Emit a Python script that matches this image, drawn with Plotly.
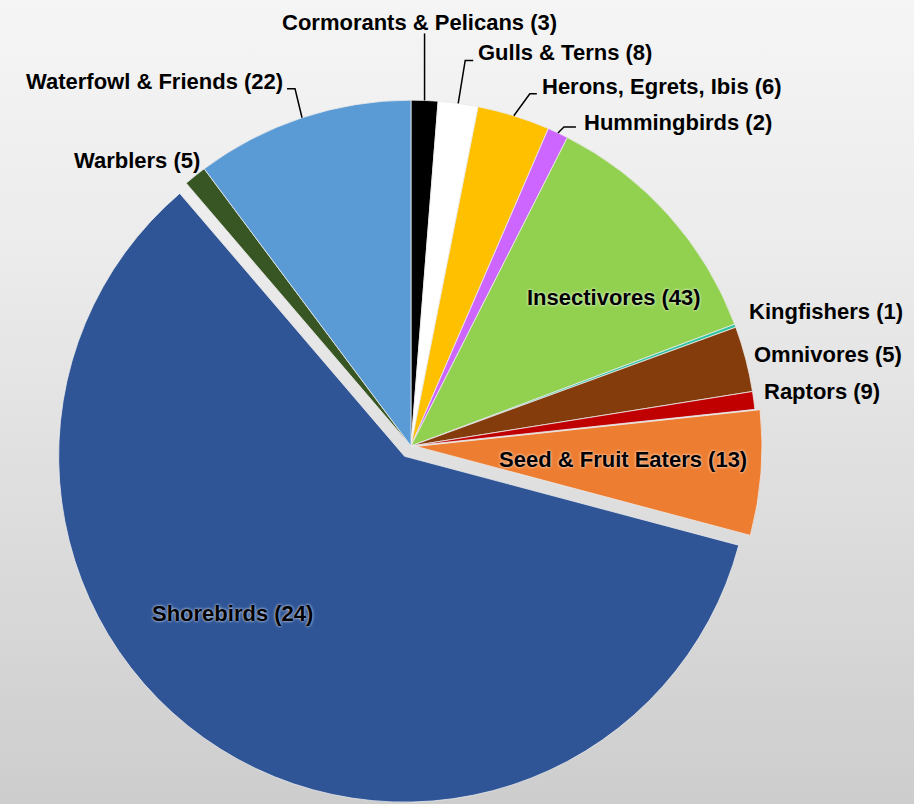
import base64
import math
import plotly.graph_objects as go

# ---------------- data ----------------
categories = ["Cormorants & Pelicans", "Gulls & Terns", "Herons, Egrets, Ibis",
              "Hummingbirds", "Insectivores", "Kingfishers", "Omnivores",
              "Raptors", "Seed & Fruit Eaters", "Shorebirds", "Warblers",
              "Waterfowl & Friends"]
species_counts = [3, 8, 6, 2, 43, 1, 5, 9, 13, 24, 5, 22]
slice_share = [1.25, 1.86, 3.39, 0.97, 11.8, 0.15, 3.06, 0.83, 5.83, 59.6, 1.06, 10.2]

# ---------------- style ----------------
colors = ["#000000", "#FFFFFF", "#FFC000", "#CC66FF", "#92D050", "#2EC4A0",
          "#843C0C", "#C00000", "#ED7D31", "#2F5597", "#375623", "#5B9BD5"]
pulls = [0, 0, 0, 0, 0, 0, 0, 0, 0.015, 0.035, 0, 0]

W, H = 914, 804
DOM_X = [0.0558, 0.8435]
DOM_Y = [0.0, 0.8905]

# label placement: ("inside", angle offset deg, radius fraction)
#                  ("outside", text dx, text dy, xanchor, leader points as offsets)
placement = {
    "Cormorants & Pelicans": ("outside", -5, -78, "center", [(0, -67)]),
    "Gulls & Terns": ("outside", 19, -51, "left", [(7, -43), (15, -43)]),
    "Herons, Egrets, Ibis": ("outside", 27, -29, "left", [(16, -22), (23, -22)]),
    "Hummingbirds": ("outside", 25, -10, "left", [(6, -6), (18, -6)]),
    "Insectivores": ("inside", 5.7, 0.728),
    "Kingfishers": ("outside", 13, -14, "left", []),
    "Omnivores": ("outside", 7, -4, "left", []),
    "Raptors": ("outside", 9, -9, "left", []),
    "Seed & Fruit Eaters": ("inside", -0.7, 0.60),
    "Shorebirds": ("inside", 15.4, 0.672),
    "Warblers": ("outside", 6, -15, "right", []),
    "Waterfowl & Friends": ("outside", -18, -36, "right", [(-7, -29), (-15, -29)]),
}

# geometry following plotly's pie layout rules (margins are zero)
box_w = W * (DOM_X[1] - DOM_X[0])
box_h = H * (DOM_Y[1] - DOM_Y[0])
R = min(box_w, box_h) / 2 / (1 + max(pulls))
CX = W * (DOM_X[0] + DOM_X[1]) / 2
CY = H * (1 - DOM_Y[0]) - box_h / 2


def px2paper(x, y):
    return x / W, 1 - y / H


def polar(angle_deg, r):
    a = math.radians(angle_deg)
    return CX + r * math.sin(a), CY - r * math.cos(a)


total = sum(slice_share)
cum = 0.0
annotations = []
shapes = []
font_base = dict(family="Liberation Sans, Arial, sans-serif", size=22, color="black", weight="bold")
for cat, cnt, val, pull in zip(categories, species_counts, slice_share, pulls):
    mid = (cum + val / 2) / total * 360.0
    cum += val
    label = f"{cat} ({cnt})"
    p = placement[cat]
    if p[0] == "inside":
        x, y = polar(mid + p[1], p[2] * R)
        ox, oy = pull * R * math.sin(math.radians(mid)), -pull * R * math.cos(math.radians(mid))
        xp, yp = px2paper(x + ox, y + oy)
        annotations.append(dict(text=label, x=xp, y=yp, xref="paper", yref="paper",
                                showarrow=False, xanchor="center", yanchor="middle",
                                borderpad=0,
                                font=dict(font_base, shadow="0px 0px 3px white")))
    else:
        ex, ey = polar(mid, R)
        xp, yp = px2paper(ex + p[1], ey + p[2])
        annotations.append(dict(text=label, x=xp, y=yp, xref="paper", yref="paper",
                                showarrow=False, xanchor=p[3], yanchor="middle",
                                borderpad=0, font=font_base))
        if p[4]:
            pts = [(ex, ey)] + [(ex + dx, ey + dy) for dx, dy in p[4]]
            path = ""
            for i, (x, y) in enumerate(pts):
                qx, qy = px2paper(x, y)
                path += ("M" if i == 0 else " L") + f" {qx:.5f} {qy:.5f}"
            shapes.append(dict(type="path", path=path, xref="paper", yref="paper",
                               line=dict(color="black", width=1.5)))

fig = go.Figure(go.Pie(
    labels=categories,
    values=slice_share,
    customdata=species_counts,
    sort=False,
    direction="clockwise",
    rotation=0,
    pull=pulls,
    textinfo="none",
    hovertemplate="%{label} (%{customdata})<extra></extra>",
    marker=dict(colors=colors, line=dict(color="rgba(235,235,235,0.8)", width=1)),
    domain=dict(x=DOM_X, y=DOM_Y),
    showlegend=False,
))

svg = (f'<svg xmlns="http://www.w3.org/2000/svg" width="{W}" height="{H}">'
       '<defs><linearGradient id="g" x1="0" y1="0" x2="0" y2="1">'
       '<stop offset="0" stop-color="#f5f5f5"/>'
       '<stop offset="0.3" stop-color="#ececec"/>'
       '<stop offset="1" stop-color="#cdcdcd"/>'
       '</linearGradient></defs>'
       f'<rect width="{W}" height="{H}" fill="url(#g)"/></svg>')
bg_uri = "data:image/svg+xml;base64," + base64.b64encode(svg.encode()).decode()

fig.update_layout(
    width=W, height=H,
    margin=dict(l=0, r=0, t=0, b=0),
    paper_bgcolor="#e6e6e6",
    plot_bgcolor="rgba(0,0,0,0)",
    images=[dict(source=bg_uri, xref="paper", yref="paper", x=0, y=1,
                 sizex=1, sizey=1, sizing="stretch", layer="below",
                 xanchor="left", yanchor="top")],
    annotations=annotations,
    shapes=shapes,
)

fig.write_html("out.html",
               config={"displayModeBar": False},
               post_script="document.body.style.margin='0';document.body.style.overflow='hidden';")
